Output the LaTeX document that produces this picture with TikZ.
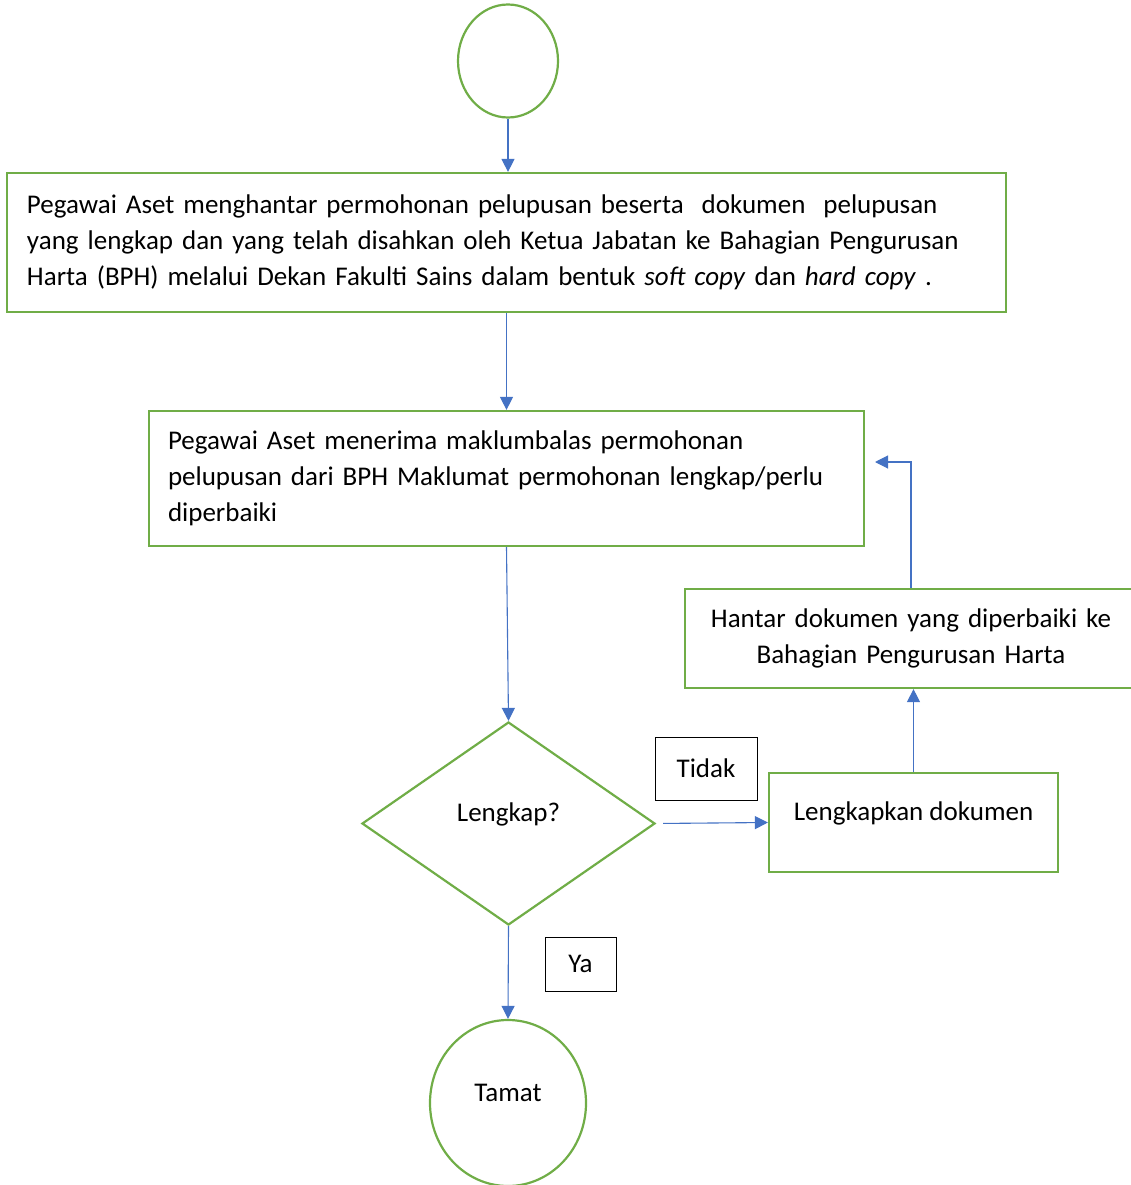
\documentclass[tikz,border=0pt]{standalone}
\usepackage{fontspec}
\setmainfont{Carlito}
\usetikzlibrary{shapes.geometric,arrows.meta}
\definecolor{stepgreen}{HTML}{70AD47}
\definecolor{flowblue}{HTML}{4472C4}
\tikzset{
  font={\fontsize{27pt}{36pt}\selectfont}}

\begin{document}
\begin{tikzpicture}[x=1pt,y=-1pt,
  process/.style={draw=stepgreen,line width=2.2pt,rectangle,inner ysep=0pt},
  terminal/.style={draw=stepgreen,line width=2.2pt,ellipse,inner sep=0pt},
  decision/.style={draw=stepgreen,line width=2.2pt,diamond,inner sep=0pt},
  answer/.style={draw=black,line width=0.9pt,rectangle,inner sep=0pt},
  raised/.style={text height=18pt,text depth=22pt},
  flow/.style={draw=flowblue,line width=1.1pt,-{Triangle[length=13pt,width=13pt]}}]
\useasboundingbox (0,0) rectangle (1131,1185);
% flow steps
\node[terminal,minimum width=100pt,minimum height=113pt] (start) at (508,61) {};
\node[process,text width=959pt,inner xsep=20pt,minimum height=139pt,align=left] (send) at (506.5,242.5)
  {Pegawai Aset menghantar permohonan pelupusan beserta\ \ dokumen\ \ pelupusan\\
   yang lengkap dan yang telah disahkan oleh Ketua Jabatan ke Bahagian Pengurusan\\
   Harta (BPH) melalui Dekan Fakulti Sains dalam bentuk \textit{soft copy} dan \textit{hard copy} .};
\node[process,text width=677pt,inner xsep=19pt,minimum height=135pt,align=left] (reply) at (506.5,478.5)
  {Pegawai Aset menerima maklumbalas permohonan\\
   pelupusan dari BPH Maklumat permohonan lengkap/perlu\\
   diperbaiki};
\node[process,text width=432pt,inner xsep=10pt,minimum height=99pt,align=center] (resend) at (911,638.5)
  {Hantar dokumen yang diperbaiki ke\\ Bahagian Pengurusan Harta};
\node[decision,raised,minimum width=293pt,minimum height=203pt] (check) at (508.5,823.5) {Lengkap?};
\node[process,raised,minimum width=289pt,minimum height=99pt] (fix) at (913.5,822.5) {Lengkapkan dokumen};
\node[answer,minimum width=102pt,minimum height=63pt] (no) at (706,768.5) {Tidak};
\node[answer,minimum width=71pt,minimum height=54pt] (yes) at (580.5,964) {Ya};
\node[terminal,raised,minimum width=156pt,minimum height=166pt] (done) at (508,1103) {Tamat};
\coordinate (back) at (875,462);
% connectors
\draw[flow] (start.south) -- (start.south |- send.north);
\draw[flow] (send.south) -- (send.south |- reply.north);
\draw[flow] (reply.south) -- (check.north);
\draw[flow,shorten <=7pt] (check.east) -- (fix.west);
\draw[flow] (fix.north) -- (fix.north |- resend.south);
\draw[flow] (resend.north) |- (back);
\draw[flow] (check.south) -- (done.north);
\end{tikzpicture}
\end{document}
